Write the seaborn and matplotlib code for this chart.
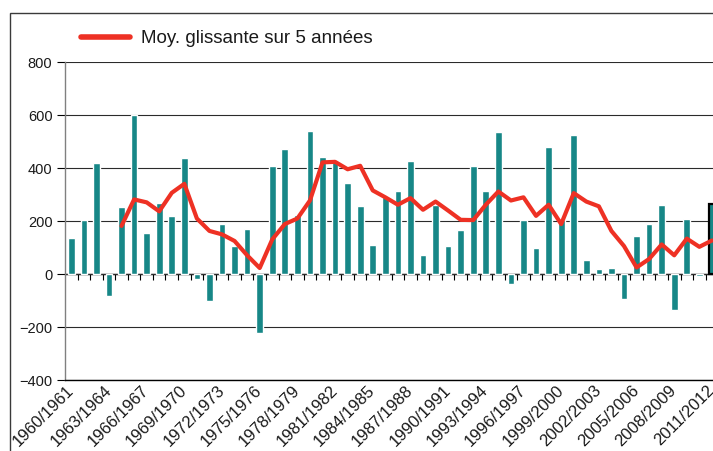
import numpy as np
import pandas as pd
import matplotlib
matplotlib.use('Agg')
import matplotlib.pyplot as plt
import seaborn as sns
from matplotlib.patches import Rectangle
from matplotlib.ticker import NullFormatter

# Seasons 1960/1961 ... 2011/2012
saisons = [f"{y}/{y + 1}" for y in range(1960, 2012)]

# Yearly values (bars)
valeurs = [135, 204, 418, -81, 253, 600, 154, 269, 219, 437,
           -20, -101, 189, 108, 169, -223, 410, 471, 223, 540,
           442, 430, 343, 256, 111, 290, 313, 427, 74, 262,
           108, 166, 410, 315, 536, -37, 204, 97, 479, 205,
           525, 55, 20, 24, -94, 143, 189, 261, -135, 208,
           -6, 264]

# 5-year moving average (red line), starts at 1964/1965
moyenne = [182, 282, 271, 237, 307, 341, 210, 163, 150, 125,
           71, 23, 131, 189, 210, 278, 422, 424, 396, 409,
           316, 290, 262, 287, 243, 274, 240, 205, 204, 262,
           312, 278, 290, 220, 262, 189, 306, 274, 256, 163,
           106, 25, 57, 112, 71, 134, 103, 127]

label_ligne = "Moy. glissante sur 5 années"

df = pd.DataFrame({'saison': saisons, 'pos': np.arange(len(saisons)), 'valeur': valeurs})
df_moy = pd.DataFrame({'pos': np.arange(4, 4 + len(moyenne)), 'moyenne': moyenne})

sns.set_style('white')
plt.rcParams['font.family'] = ['Liberation Sans', 'DejaVu Sans']
plt.rcParams['text.color'] = '#1a1a1a'
plt.rcParams['xtick.color'] = '#1a1a1a'
plt.rcParams['ytick.color'] = '#1a1a1a'

W, H = 713, 451
fig = plt.figure(figsize=(W / 100, H / 100), dpi=100)

# axes placed in pixels: left 65, top 62.3, bottom 380, right beyond image edge
ax = fig.add_axes([65 / W, (H - 380) / H, 653.2 / W, (380 - 62.3) / H])

sns.barplot(data=df, x='pos', y='valeur', color='#178787', width=0.53,
            saturation=1, ax=ax, zorder=3)
# last season highlighted
last = ax.patches[-1]
last.set_edgecolor('black')
last.set_linewidth(1.6)

sns.lineplot(data=df_moy, x='pos', y='moyenne', color='#EE3124', linewidth=3.0,
             ax=ax, zorder=4, label=label_ligne)

ax.set_xlim(-0.5, len(saisons) - 0.5)
ax.set_ylim(-400, 800)
ax.set_yticks(np.arange(-400, 801, 200))
ax.yaxis.grid(True, color='#2b2b2b', linewidth=0.8, zorder=0)
ax.set_axisbelow(True)
ax.set_xlabel('')
ax.set_ylabel('')

for s in ['top', 'right']:
    ax.spines[s].set_visible(False)
ax.spines['left'].set_color('#808080')
ax.spines['left'].set_linewidth(1.0)
ax.spines['bottom'].set_color('black')
ax.spines['bottom'].set_linewidth(1.0)

ax.tick_params(axis='y', direction='out', length=6, width=0.8, color='black',
               labelsize=10.5, pad=3, left=True)
ax.set_xticks(np.arange(0, len(saisons), 3))
ax.set_xticklabels(saisons[::3], rotation=45, ha='right', va='center',
                   rotation_mode='anchor')
ax.tick_params(axis='x', length=0, labelsize=12, pad=6)

# small ticks on the zero line between categories
sec = ax.secondary_xaxis(400 / 1200)
sec.set_xticks(np.arange(0.5, len(saisons) - 0.5, 1))
sec.xaxis.set_major_formatter(NullFormatter())
sec.tick_params(axis='x', direction='out', length=4, width=0.8, color='black')
for s in sec.spines.values():
    s.set_visible(False)
sec.spines['bottom'].set_visible(True)
sec.spines['bottom'].set_color('black')
sec.spines['bottom'].set_linewidth(1.0)

leg = ax.legend(loc='center left', bbox_to_anchor=(81 / W, 1 - 38.5 / H),
                bbox_transform=fig.transFigure, frameon=False, fontsize=13.5,
                handlelength=2.6, handletextpad=0.6, borderpad=0, borderaxespad=0)
for h in leg.get_lines():
    h.set_linewidth(4)

# outer frame around the chart
fig.add_artist(Rectangle((9.5 / W, -0.2), 1.2, 1 - 13 / H + 0.2,
                         transform=fig.transFigure, fill=False,
                         edgecolor='#3a3a3a', linewidth=1.0))

fig.savefig('out.png', dpi=100)
